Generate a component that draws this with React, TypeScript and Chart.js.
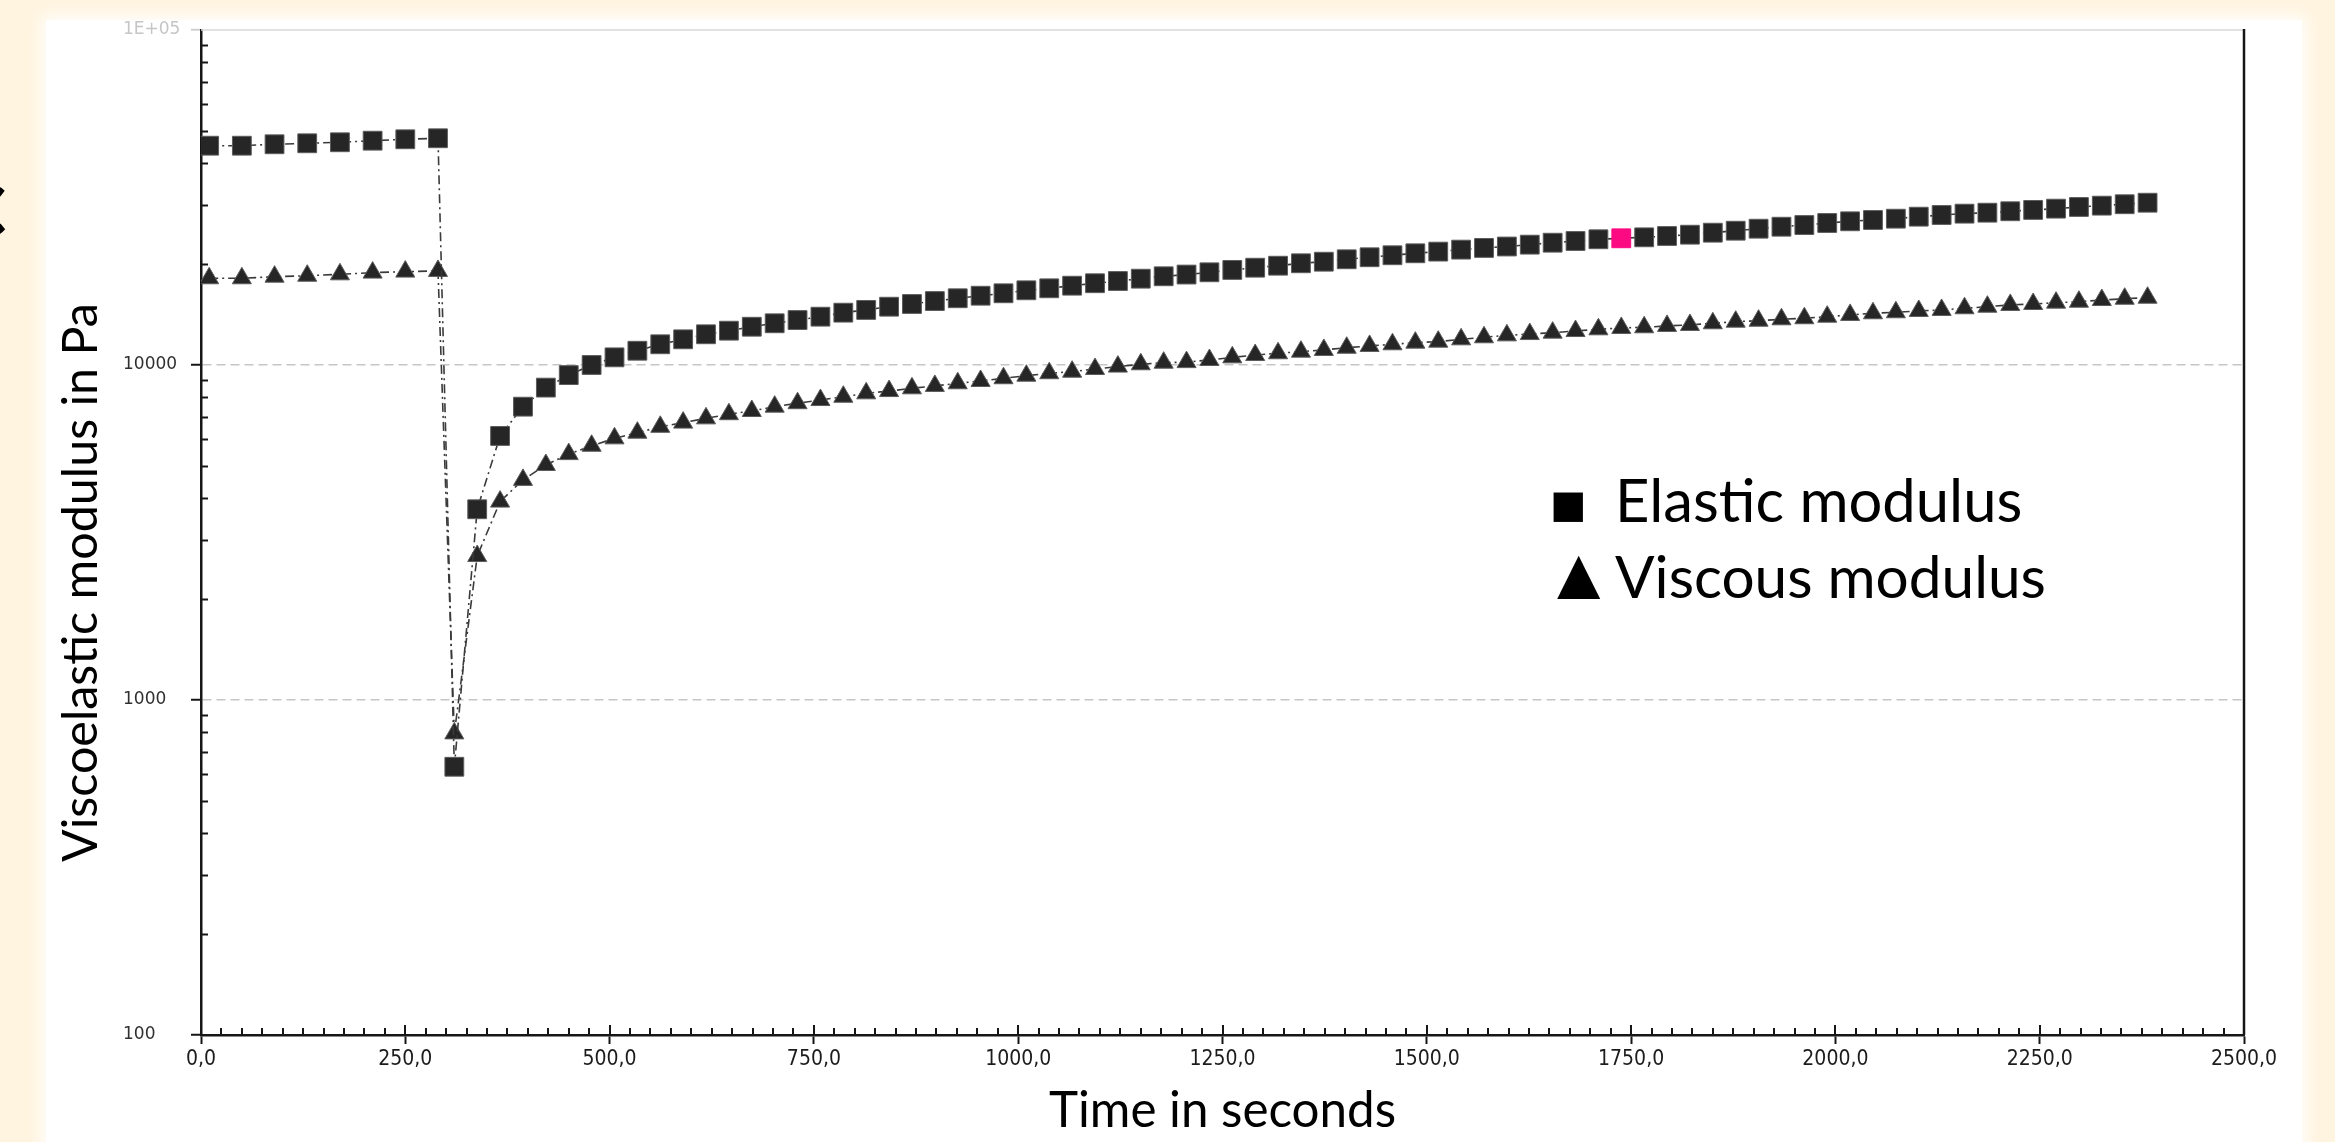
import React, { useEffect, useRef } from 'react';
import { Chart, registerables } from 'chart.js';

Chart.register(...registerables);

// ---------------- data ----------------
const timeSeconds = [
  10, 50, 90, 130, 170, 210, 250, 290,
  310, 338, 366, 394, 422, 450, 478, 506, 534, 562, 590, 618, 646, 674, 702, 730,
  758, 786, 814, 842, 870, 898, 926, 954, 982, 1010, 1038, 1066, 1094, 1122, 1150,
  1178, 1206, 1234, 1262, 1290, 1318, 1346, 1374, 1402, 1430, 1458, 1486, 1514,
  1542, 1570, 1598, 1626, 1654, 1682, 1710, 1738, 1766, 1794, 1822, 1850, 1878,
  1906, 1934, 1962, 1990, 2018, 2046, 2074, 2102, 2130, 2158, 2186, 2214, 2242,
  2270, 2298, 2326, 2354, 2382,
];

const elasticModulus = [
  45150, 45150, 45590, 45900, 46220, 46730, 47180, 47510,
  632, 3710, 6140, 7510, 8560, 9330, 10000, 10540, 11030, 11530, 11930, 12350, 12660,
  13010, 13320, 13620, 13940, 14330, 14600, 14930, 15210, 15520, 15820, 16100, 16370,
  16710, 16940, 17250, 17540, 17810, 18100, 18400, 18620, 18910, 19220, 19520, 19790,
  20120, 20340, 20680, 20970, 21260, 21550, 21800, 22100, 22360, 22580, 22870, 23180,
  23450, 23730, 23890, 24050, 24270, 24490, 24830, 25170, 25520, 25870, 26170, 26540,
  26850, 27090, 27340, 27720, 28040, 28300, 28490, 28770, 29030, 29290, 29630, 29900,
  30190, 30510,
];

const viscousModulus = [
  18150, 18150, 18350, 18470, 18650, 18870, 19000, 19090,
  795, 2690, 3910, 4540, 5030, 5420, 5740, 6040, 6280, 6540, 6730, 6930, 7130,
  7290, 7510, 7690, 7860, 8040, 8230, 8360, 8520, 8660, 8820, 8960, 9130,
  9290, 9450, 9550, 9730, 9890, 10050, 10160, 10200, 10350, 10540, 10710, 10840,
  10960, 11090, 11260, 11400, 11530, 11660, 11740, 11930, 12100, 12260, 12370, 12490,
  12630, 12780, 12900, 12960, 13080, 13170, 13320, 13470, 13560, 13690, 13790, 13940,
  14110, 14270, 14370, 14500, 14600, 14770, 14930, 15110, 15210, 15350, 15450, 15630,
  15770, 15880,
];

const highlightedPointIndex = 59;

const xTickValues = [0, 250, 500, 750, 1000, 1250, 1500, 1750, 2000, 2250, 2500];
const xTickLabels = ['0,0', '250,0', '500,0', '750,0', '1000,0', '1250,0', '1500,0', '1750,0', '2000,0', '2250,0', '2500,0'];
const yTickValues = [100, 1000, 10000, 100000];
const yTickLabels = ['100', '1000', '10000', '1E+05'];

const xAxisTitle = 'Time in seconds';
const yAxisTitle = 'Viscoelastic modulus in Pa';
const seriesNames = ['Elastic modulus', 'Viscous modulus'];
const legendSymbols = ['\u25A0', '\u25B2'];

// ---------------- styling helpers ----------------
const TITLE_FAMILY = 'Lato, "Open Sans", sans-serif';
const NARROW_FAMILY = '"Liberation Sans Narrow", "Arial Narrow", "DejaVu Sans Condensed", "Roboto Condensed", "Liberation Sans", sans-serif';

function drawFittedText(ctx: CanvasRenderingContext2D, text: string, family: string, inkLeft: number, baseline: number, inkWidth: number) {
  ctx.font = `100px ${family}`;
  const m = ctx.measureText(text);
  const w = m.actualBoundingBoxLeft + m.actualBoundingBoxRight;
  const size = (100 * inkWidth) / w;
  ctx.font = `${size}px ${family}`;
  const m2 = ctx.measureText(text);
  ctx.textAlign = 'left';
  ctx.textBaseline = 'alphabetic';
  ctx.fillText(text, inkLeft + m2.actualBoundingBoxLeft, baseline);
}

function drawFittedGlyph(ctx: CanvasRenderingContext2D, text: string, family: string, left: number, top: number, height: number) {
  ctx.font = `100px ${family}`;
  const m = ctx.measureText(text);
  const h = m.actualBoundingBoxAscent + m.actualBoundingBoxDescent;
  const size = (100 * height) / h;
  ctx.font = `${size}px ${family}`;
  const m2 = ctx.measureText(text);
  ctx.textAlign = 'left';
  ctx.textBaseline = 'alphabetic';
  ctx.fillText(text, left + m2.actualBoundingBoxLeft, top + m2.actualBoundingBoxAscent);
}

const decorPlugin = {
  id: 'decor',
  afterDraw(chart: any) {
    const { ctx, chartArea: ca } = chart;
    const xs = chart.scales.x;
    const ys = chart.scales.y;
    ctx.save();
    // frame: light top border, dark right border
    ctx.lineWidth = 1.5;
    ctx.strokeStyle = '#d8d8d8';
    ctx.beginPath();
    ctx.moveTo(ca.left, ca.top);
    ctx.lineTo(ca.right, ca.top);
    ctx.stroke();
    ctx.lineWidth = 2.5;
    ctx.strokeStyle = '#161616';
    ctx.beginPath();
    ctx.moveTo(ca.right, ca.top - 1);
    ctx.lineTo(ca.right, ca.bottom);
    ctx.stroke();

    // inner minor ticks on the log axis
    ctx.lineWidth = 2;
    ctx.strokeStyle = '#161616';
    for (let d = ys.min; d < ys.max; d *= 10) {
      for (let k = 2; k <= 9; k++) {
        const py = Math.round(ys.getPixelForValue(d * k)) + 0.5;
        ctx.beginPath();
        ctx.moveTo(ca.left, py);
        ctx.lineTo(ca.left + 7, py);
        ctx.stroke();
      }
    }
    // inner ticks on the time axis
    const step = (xTickValues[1] - xTickValues[0]) / 10;
    for (let v = xs.min + step; v < xs.max; v += step) {
      const px = Math.round(xs.getPixelForValue(v));
      const major = Math.abs(v / (step * 10) - Math.round(v / (step * 10))) < 1e-6;
      ctx.beginPath();
      ctx.moveTo(px, ca.bottom);
      ctx.lineTo(px, ca.bottom - (major ? 10 : 7));
      ctx.stroke();
    }

    // titles
    ctx.fillStyle = '#000';
    drawFittedText(ctx, xAxisTitle, TITLE_FAMILY, 1049, 1127, 345);
    ctx.save();
    ctx.translate(97, 862);
    ctx.rotate(-Math.PI / 2);
    drawFittedText(ctx, yAxisTitle, TITLE_FAMILY, 0, 0, 556);
    ctx.restore();

    // legend
    drawFittedGlyph(ctx, legendSymbols[0], '"DejaVu Sans"', 1553, 492, 30);
    drawFittedText(ctx, seriesNames[0], TITLE_FAMILY, 1620, 522, 400);
    drawFittedGlyph(ctx, legendSymbols[1], '"DejaVu Sans"', 1557, 555, 44);
    drawFittedText(ctx, seriesNames[1], TITLE_FAMILY, 1615, 598, 429);
    ctx.restore();
  },
};

function ViscoChart() {
  const ref = useRef<HTMLCanvasElement | null>(null);
  useEffect(() => {
    const canvas = ref.current;
    if (!canvas) return;
    const lineStyle = {
      borderColor: '#3a3a3a',
      borderWidth: 1.6,
      borderDash: [9, 4, 2, 4],
      tension: 0,
      fill: false,
    };
    const chart = new Chart(canvas, {
      type: 'line',
      data: {
        datasets: [
          {
            label: seriesNames[0],
            data: timeSeconds.map((t, i) => ({ x: t, y: elasticModulus[i] })),
            ...lineStyle,
            pointStyle: 'rect',
            pointRadius: 13.3,
            pointBackgroundColor: elasticModulus.map((_, i) => (i === highlightedPointIndex ? '#fc0a82' : '#262626')),
            pointBorderColor: elasticModulus.map((_, i) => (i === highlightedPointIndex ? '#fc0a82' : '#5c5c5c')),
            pointBorderWidth: 1,
          },
          {
            label: seriesNames[1],
            data: timeSeconds.map((t, i) => ({ x: t, y: viscousModulus[i] })),
            ...lineStyle,
            pointStyle: 'triangle',
            pointRadius: 11,
            pointBackgroundColor: '#262626',
            pointBorderColor: '#5c5c5c',
            pointBorderWidth: 1,
          },
        ],
      },
      options: {
        animation: false,
        responsive: false,
        maintainAspectRatio: false,
        devicePixelRatio: 1,
        events: [],
        layout: { padding: { left: 123, right: 91, top: 30, bottom: 0 } },
        plugins: { legend: { display: false }, tooltip: { enabled: false }, title: { display: false } },
        scales: {
          x: {
            type: 'linear',
            position: 'bottom',
            min: 0,
            max: 2500,
            afterBuildTicks: (s: any) => {
              s.ticks = xTickValues.map((v) => ({ value: v }));
            },
            afterFit: (s: any) => {
              s.height = 107;
            },
            ticks: {
              autoSkip: false,
              maxRotation: 0,
              padding: 3,
              color: '#1c1c1c',
              font: { family: NARROW_FAMILY, size: 21 },
              callback: (_v: any, i: number) => xTickLabels[i],
            },
            grid: { drawOnChartArea: false, drawTicks: true, tickLength: 9, tickColor: '#161616', tickWidth: 2 },
            border: { display: true, color: '#161616', width: 2.5 },
          },
          y: {
            type: 'logarithmic',
            position: 'left',
            min: 100,
            max: 100000,
            afterBuildTicks: (s: any) => {
              s.ticks = yTickValues.map((v) => ({ value: v, major: true }));
            },
            afterFit: (s: any) => {
              s.width = 78;
            },
            ticks: {
              autoSkip: false,
              crossAlign: 'far',
              padding: 6,
              color: (c: any) => (c.index === yTickValues.length - 1 ? '#c6c6c6' : '#303030'),
              font: { family: '"DejaVu Sans", Verdana, sans-serif', size: 17 },
              callback: (_v: any, i: number) => yTickLabels[i],
            },
            grid: {
              drawOnChartArea: true,
              color: (c: any) => (c.index === 1 || c.index === 2 ? '#c6c6c6' : 'rgba(0,0,0,0)'),
              lineWidth: 1.5,
              drawTicks: true,
              tickLength: 10,
              tickWidth: 2,
              tickColor: (c: any) => (c.index === yTickValues.length - 1 ? '#d0d0d0' : '#161616'),
            },
            border: { display: true, color: '#161616', width: 2.5, dash: [9, 5] },
          },
        },
      } as any,
      plugins: [decorPlugin],
    });
    return () => chart.destroy();
  }, []);
  return <canvas ref={ref} width={2335} height={1142} style={{ position: 'absolute', left: 0, top: 0, width: 2335, height: 1142 }} />;
}

export default function App() {
  return (
    <div style={{ position: 'absolute', left: 0, top: 0, width: 2335, height: 1142, overflow: 'hidden', background: '#fff4df' }}>
      <div style={{ position: 'absolute', left: 46, top: 20, width: 2256, height: 1200, background: '#ffffff', boxShadow: '0 0 16px 4px #ffffff' }} />
      <div style={{ position: 'absolute', left: 0, top: 145, width: 7, height: 115, overflow: 'hidden' }}>
        <span style={{ position: 'absolute', right: 0, top: 0, font: 'bold 104px Lato, sans-serif', lineHeight: '104px', color: '#000' }}>c</span>
      </div>
      <ViscoChart />
    </div>
  );
}
